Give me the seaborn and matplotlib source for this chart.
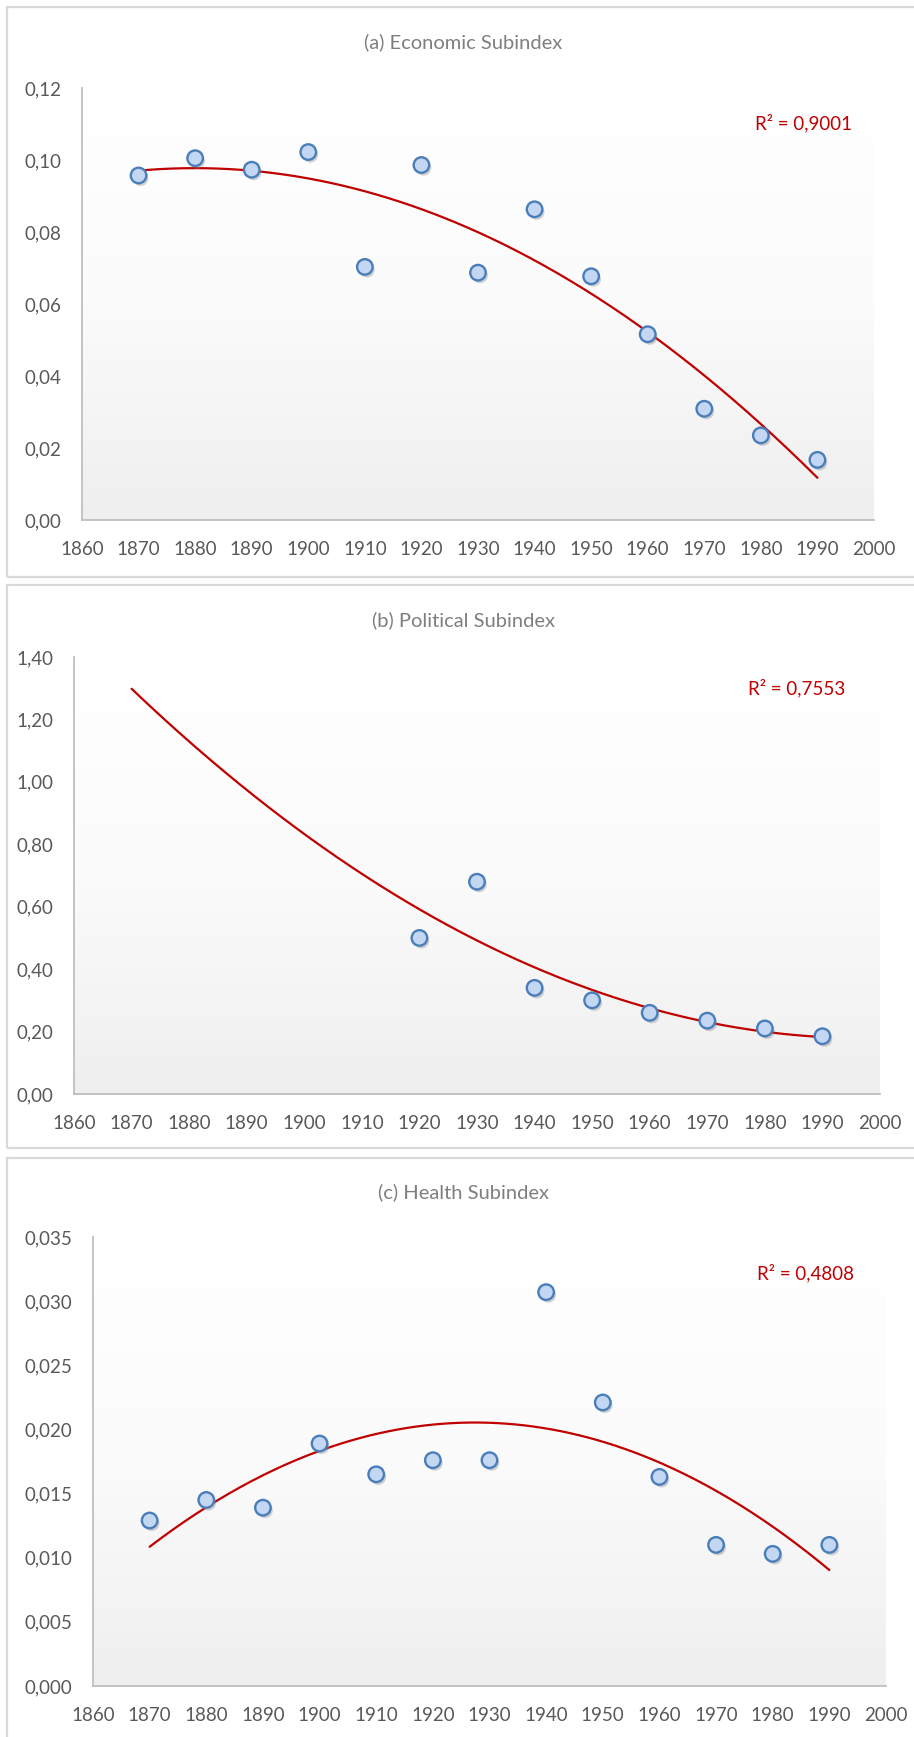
import numpy as np
import pandas as pd
import matplotlib
matplotlib.use("Agg")
import matplotlib.pyplot as plt
import seaborn as sns
from matplotlib.patches import Rectangle
from matplotlib.ticker import FixedLocator, FuncFormatter
from matplotlib.colors import LinearSegmentedColormap
import matplotlib.patheffects as pe

# ---------------- data ----------------
years = [1870, 1880, 1890, 1900, 1910, 1920, 1930, 1940, 1950, 1960, 1970, 1980, 1990]
economic = [0.0957, 0.1005, 0.0973, 0.1022, 0.0703, 0.0986, 0.0687, 0.0863, 0.0677,
            0.0516, 0.0309, 0.0235, 0.0167]
political_years = [1920, 1930, 1940, 1950, 1960, 1970, 1980, 1990]
political = [0.50, 0.68, 0.34, 0.30, 0.26, 0.235, 0.21, 0.185]
health = [0.0129, 0.0145, 0.0139, 0.0189, 0.0165, 0.0176, 0.0176, 0.0307, 0.0221,
          0.0163, 0.0110, 0.0103, 0.0110]

titles = ["(a) Economic Subindex", "(b) Political Subindex", "(c) Health Subindex"]
r2_labels = ["R\u00b2 = 0,9001", "R\u00b2 = 0,7553", "R\u00b2 = 0,4808"]
y_maxes = [0.12, 1.40, 0.035]
y_steps = [0.02, 0.20, 0.005]
y_decimals = [2, 2, 3]
x_ticks = list(range(1860, 2001, 10))
trend_range = (1870, 1990)

# ---------------- style ----------------
sns.set_theme(style="white")
plt.rcParams['font.family'] = ['Lato', 'DejaVu Sans']

W, H = 914, 1737
fig = plt.figure(figsize=(W / 100, H / 100), dpi=100)
fig.patch.set_facecolor("white")

def px_axes(x0, x1, y_top, y_bot):
    return [x0 / W, 1 - y_bot / H, (x1 - x0) / W, (y_bot - y_top) / H]

axes_px = [(82, 874, 88, 520), (74, 880, 657, 1094), (93, 886, 1237, 1686)]
panels_px = [(7, 577), (585, 1148), (1158, 1760)]
title_y_px = [42, 620, 1192]
r2_pos = [(0.850, 0.919), (0.836, 0.929), (0.837, 0.920)]

# panel borders
for (top, bot) in panels_px:
    fig.patches.append(Rectangle((7 / W, 1 - bot / H), (930 - 7) / W, (bot - top) / H,
                                 transform=fig.transFigure, fill=False,
                                 edgecolor="#D9D9D9", linewidth=1.6, clip_on=False))

grad_cmap = LinearSegmentedColormap.from_list("g", ["#FFFFFF", "#FBFBFB", "#EFEFEF"])
gradient = np.linspace(0, 1, 256).reshape(-1, 1)

datasets = [
    (years, economic),
    (political_years, political),
    (years, health),
]

for i, (xs, ys) in enumerate(datasets):
    ax = fig.add_axes(px_axes(*axes_px[i]))
    ax.imshow(gradient, cmap=grad_cmap, extent=[0, 1, 0, 1], transform=ax.transAxes,
              aspect="auto", origin="upper", zorder=0)

    df = pd.DataFrame({"year": xs, "value": ys})

    # polynomial (order 2) trend line fitted to the data
    coef = np.polyfit(df["year"], df["value"], 2)
    tx = np.linspace(trend_range[0], trend_range[1], 300)
    trend = pd.DataFrame({"year": tx, "value": np.polyval(coef, tx)})
    sns.lineplot(data=trend, x="year", y="value", ax=ax, color="#C00000",
                 linewidth=1.6, zorder=2)

    sns.scatterplot(data=df, x="year", y="value", ax=ax, s=125,
                    color="#C3D6F2", edgecolor="#4A7EBB", linewidth=1.7, zorder=3)
    for coll in ax.collections:
        coll.set_path_effects([pe.SimplePatchShadow(offset=(1.5, -2.0),
                                                    shadow_rgbFace="#7F7F7F", alpha=0.35),
                               pe.Normal()])

    ax.set_xlim(1860, 2000)
    ax.set_ylim(0, y_maxes[i])
    ax.xaxis.set_major_locator(FixedLocator(x_ticks))
    yt = np.arange(0, y_maxes[i] + y_steps[i] / 2, y_steps[i])
    ax.yaxis.set_major_locator(FixedLocator(yt))
    d = y_decimals[i]
    ax.yaxis.set_major_formatter(FuncFormatter(lambda v, p, d=d: f"{v:.{d}f}".replace(".", ",")))
    ax.xaxis.set_major_formatter(FuncFormatter(lambda v, p: f"{int(round(v))}"))
    ax.set_xlabel("")
    ax.set_ylabel("")
    ax.grid(False)
    ax.set_facecolor("white")
    for side in ["top", "right"]:
        ax.spines[side].set_visible(False)
    for side in ["left", "bottom"]:
        ax.spines[side].set_color("#BFBFBF")
        ax.spines[side].set_linewidth(1.3)
    ax.tick_params(axis="both", length=0, labelsize=13.5, labelcolor="#595959")
    ax.tick_params(axis="y", pad=15)
    ax.tick_params(axis="x", pad=15)

    ax.text(r2_pos[i][0], r2_pos[i][1], r2_labels[i], transform=ax.transAxes,
            color="#C00000", fontsize=13.5, ha="left", va="center")

    fig.text(463 / W, 1 - title_y_px[i] / H, titles[i], ha="center", va="center",
             fontsize=14.5, color="#7F7F7F")

fig.savefig("out.png", dpi=100, facecolor="white")
